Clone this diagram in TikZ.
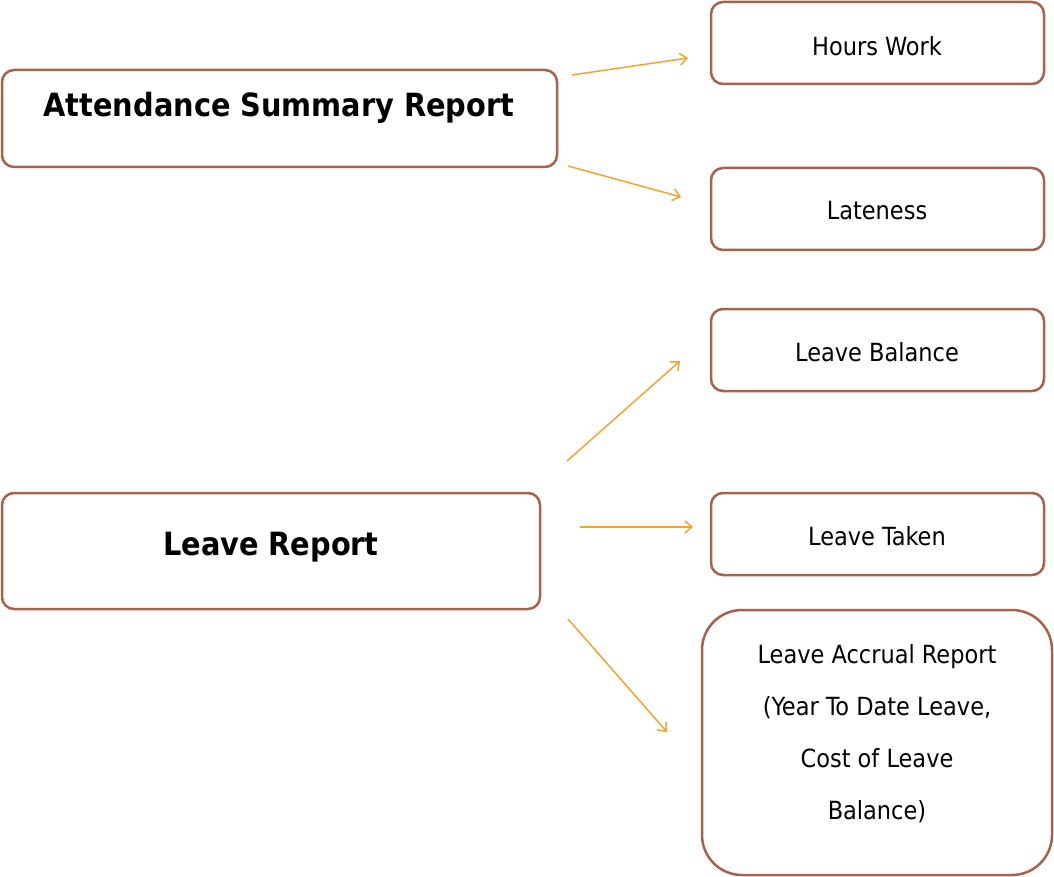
\documentclass[tikz,border=0pt]{standalone}
\usepackage{fontspec}
\usetikzlibrary{arrows.meta}
\setmainfont{DejaVu Sans Condensed}
\begin{document}
\begin{tikzpicture}[x=1pt,y=-1pt,
  bx/.style={draw=brd,line width=2.5pt,rounded corners=12pt},
  arr/.style={draw=arc,line width=1.5pt,-{Straight Barb[length=7pt,width=12pt]}},
  lbl/.style={font=\fontsize{25}{30}\selectfont}]
\definecolor{brd}{RGB}{166,98,76}
\definecolor{arc}{RGB}{240,165,50}
\useasboundingbox (0,0) rectangle (1054,877);
\draw[bx] (2,70) rectangle (557,167);
\node[font=\bfseries\fontsize{32}{38}\selectfont] (att) at (279,108) {Attendance Summary Report};
\draw[bx] (711,2) rectangle (1044,84); \node[lbl] (hw) at (877,46) {Hours Work};
\draw[bx] (711,168) rectangle (1044,250); \node[lbl] (lt) at (877,211) {Lateness};
\draw[bx] (711,309) rectangle (1044,391); \node[lbl] (lb) at (877,352) {Leave Balance};
\draw[bx] (2,493) rectangle (540,609);
\node[font=\bfseries\fontsize{32}{38}\selectfont] (lr) at (271,547) {Leave Report};
\draw[bx] (711,493) rectangle (1044,575); \node[lbl] (ltk) at (877,536) {Leave Taken};
\draw[bx,rounded corners=40pt] (702,610) rectangle (1052,875);
\node[lbl,align=center,font=\fontsize{25}{52}\selectfont] (acc) at (877,734) {Leave Accrual Report\\(Year To Date Leave,\\Cost of Leave\\Balance)};
\coordinate (a1) at (572,75); \coordinate (b1) at (688,58);
\coordinate (a2) at (568,166); \coordinate (b2) at (681,197);
\coordinate (a3) at (567,461); \coordinate (b3) at (680,361);
\coordinate (a4) at (580,527); \coordinate (b4) at (693,527);
\coordinate (a5) at (568,619); \coordinate (b5) at (667,732);
\foreach \i in {1,...,5} \draw[arr] (a\i) -- (b\i);
\end{tikzpicture}
\end{document}
